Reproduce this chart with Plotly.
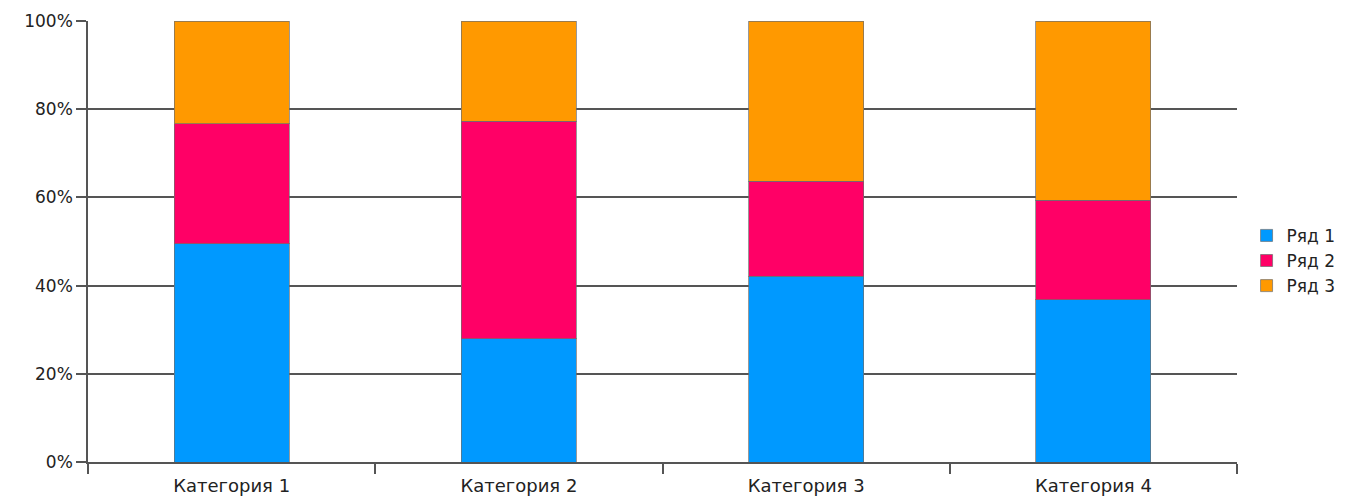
import plotly.graph_objects as go

categories = ["Категория 1", "Категория 2", "Категория 3", "Категория 4"]
series_names = ["Ряд 1", "Ряд 2", "Ряд 3"]
row1 = [49.5, 28.0, 42.1, 36.8]
row2 = [27.2, 49.3, 21.6, 22.5]
row3 = [23.3, 22.7, 36.3, 40.7]
colors = ["#0099FF", "#FF0066", "#FF9900"]
y_ticks = [0, 20, 40, 60, 80, 100]
y_tick_labels = ["0%", "20%", "40%", "60%", "80%", "100%"]

fig = go.Figure()
for name, vals, col in zip(series_names, [row1, row2, row3], colors):
    fig.add_trace(go.Bar(
        x=categories, y=vals, name=name,
        marker=dict(color=col, line=dict(color="rgba(110,110,110,0.7)", width=1)),
    ))

font = dict(family="DejaVu Sans, Liberation Sans, Arial", size=17, color="#222")
# page body has an 8px default margin, so the figure is sized/offset to compensate
fig.update_layout(
    width=1339, height=491,
    barmode="stack", barnorm="percent", bargap=0.6,
    plot_bgcolor="white", paper_bgcolor="white",
    margin=dict(l=80, r=110, t=13, b=37, pad=0),
    font=font,
    showlegend=True,
    legend=dict(
        xref="container", yref="container",
        x=0.925, y=0.485, xanchor="left", yanchor="middle",
        traceorder="normal", font=dict(size=17, color="#222"),
        itemwidth=30, tracegroupgap=0,
        bgcolor="rgba(0,0,0,0)",
    ),
)
fig.update_yaxes(
    range=[0, 100], tickmode="array", tickvals=y_ticks, ticktext=y_tick_labels,
    showgrid=True, gridcolor="#555", gridwidth=1.5,
    showline=True, linecolor="#555", linewidth=1.5,
    ticks="outside", ticklen=10, tickcolor="#555", tickwidth=1.5,
    zeroline=False, fixedrange=True, automargin=False,
    tickfont=dict(size=17),
)
fig.update_xaxes(
    type="category", tickson="boundaries",
    showline=True, linecolor="#555", linewidth=1.5,
    ticks="outside", ticklen=10, tickcolor="#555", tickwidth=1.5,
    ticklabelstandoff=7,
    showgrid=False, fixedrange=True, automargin=False,
    tickfont=dict(size=18),
)

fig.write_html("out.html")
